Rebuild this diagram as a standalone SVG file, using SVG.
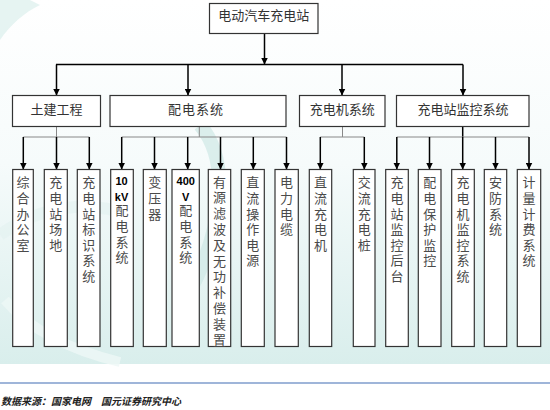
<svg xmlns="http://www.w3.org/2000/svg" width="550" height="410" viewBox="0 0 550 410">
<defs>
<linearGradient id="bg" x1="0" y1="0" x2="0" y2="1">
<stop offset="0" stop-color="#ffffff"/>
<stop offset="0.45" stop-color="#f6fbfb"/>
<stop offset="1" stop-color="#d9eeec"/>
</linearGradient>
<marker id="ah" viewBox="0 0 10 10" refX="10" refY="5" markerWidth="7" markerHeight="7" markerUnits="userSpaceOnUse" orient="auto">
<path d="M0,0 L10,5 L0,10 z" fill="#000"/>
</marker>
<style>
.box{fill:#fff;stroke:#333;stroke-width:1.2}
.t2{font-family:"Noto Sans CJK SC","Noto Sans CJK JP",sans-serif;font-size:13px;fill:#333;text-anchor:middle}
.tv{font-family:"Noto Sans CJK SC","Noto Sans CJK JP",sans-serif;font-size:13px;fill:#4a4a4a;text-anchor:start;writing-mode:vertical-rl;letter-spacing:2.6px}
.tb{font-family:"Liberation Sans",Arial,sans-serif;font-size:11px;font-weight:bold;fill:#000;text-anchor:middle}
.arr{stroke:#000;stroke-width:1.5;fill:none;marker-end:url(#ah)}
.ln{stroke:#000;stroke-width:1.5;fill:none}
.lg{stroke:#888;stroke-width:1;fill:none}
.src{font-family:"Noto Sans CJK SC",sans-serif;font-size:10px;font-weight:bold;font-style:italic;fill:#222}
</style>
</defs>
<rect x="0" y="0" width="550" height="364" fill="url(#bg)"/>
<rect x="0" y="364" width="550" height="46" fill="#fff"/>
<path d="M0,40 C10,25 25,12 40,5 L30,0 L0,0 z" fill="#d6ecea" opacity="0.6"/>
<path d="M200,125 C230,160 225,230 185,300" stroke="#cfe8e5" stroke-width="14" fill="none" opacity="0.7"/>
<path d="M0,235 C40,205 90,200 130,215" stroke="#e4f2f1" stroke-width="12" fill="none" opacity="0.7"/>
<path d="M5,300 C30,330 70,350 120,362" stroke="#eef7f6" stroke-width="10" fill="none" opacity="0.8"/>
<line x1="0" y1="383" x2="550" y2="383" stroke="#7f9ccc" stroke-width="1.5"/>
<text class="src" x="1" y="405">数据来源：国家电网　国元证券研究中心</text>

<g id="connectors">
<line class="arr" x1="264.5" y1="33.5" x2="264.5" y2="64.5"/>
<line class="ln" x1="56" y1="64.5" x2="463" y2="64.5"/>
<line class="arr" x1="56.5" y1="64.5" x2="56.5" y2="95.5"/>
<line class="arr" x1="188" y1="64.5" x2="188" y2="95.5"/>
<line class="arr" x1="342" y1="64.5" x2="342" y2="95.5"/>
<line class="arr" x1="463" y1="64.5" x2="463" y2="95.5"/>

<line class="lg" x1="56.5" y1="126.5" x2="56.5" y2="137"/>
<line class="lg" x1="23.3" y1="137" x2="89.3" y2="137"/>
<line class="arr" x1="23.3" y1="137" x2="23.3" y2="169.5"/>
<line class="arr" x1="56.5" y1="137" x2="56.5" y2="169.5"/>
<line class="arr" x1="89.3" y1="137" x2="89.3" y2="169.5"/>

<line class="lg" x1="199.3" y1="126.5" x2="199.3" y2="137"/>
<line class="lg" x1="121.7" y1="137" x2="286.5" y2="137"/>
<line class="arr" x1="121.7" y1="137" x2="121.7" y2="169.5"/>
<line class="arr" x1="154.5" y1="137" x2="154.5" y2="169.5"/>
<line class="arr" x1="187.7" y1="137" x2="187.7" y2="169.5"/>
<line class="arr" x1="220.5" y1="137" x2="220.5" y2="169.5"/>
<line class="arr" x1="253.3" y1="137" x2="253.3" y2="169.5"/>
<line class="arr" x1="286.5" y1="137" x2="286.5" y2="169.5"/>

<line class="lg" x1="342.5" y1="126.5" x2="342.5" y2="137"/>
<line class="lg" x1="320.3" y1="137" x2="364.3" y2="137"/>
<line class="arr" x1="320.3" y1="137" x2="320.3" y2="169.5"/>
<line class="arr" x1="364.3" y1="137" x2="364.3" y2="169.5"/>

<line class="ln" x1="462.7" y1="126.5" x2="462.7" y2="137"/>
<line class="lg" x1="396.8" y1="137" x2="529" y2="137"/>
<line class="arr" x1="396.8" y1="137" x2="396.8" y2="169.5"/>
<line class="arr" x1="429.5" y1="137" x2="429.5" y2="169.5"/>
<line class="arr" x1="462.7" y1="137" x2="462.7" y2="169.5"/>
<line class="arr" x1="495.5" y1="137" x2="495.5" y2="169.5"/>
<line class="arr" x1="529" y1="137" x2="529" y2="169.5"/>
</g>

<g id="root"><rect class="box" x="209.5" y="3.5" width="108.5" height="30"/><text class="t2" x="263.7" y="20">电动汽车充电站</text></g>

<g id="tujian"><rect class="box" x="12.5" y="95.5" width="88" height="31"/><text class="t2" x="56.5" y="113.5">土建工程</text></g>
<g id="peidian"><rect class="box" x="110" y="95.5" width="176" height="31"/><text class="t2" x="196" y="113.5" letter-spacing="1">配电系统</text></g>
<g id="chongdianji"><rect class="box" x="299.5" y="95.5" width="85.5" height="31"/><text class="t2" x="342.2" y="113.5">充电机系统</text></g>
<g id="jiankong"><rect class="box" x="396.5" y="95.5" width="132.5" height="31"/><text class="t2" x="463" y="113.5">充电站监控系统</text></g>

<g id="n1"><rect class="box" x="12.7" y="169.5" width="20.6" height="177"/><text class="tv" x="23" y="176">综合办公室</text></g>
<g id="n2"><rect class="box" x="44.3" y="169.5" width="23" height="177"/><text class="tv" x="55.8" y="176">充电站场地</text></g>
<g id="n3"><rect class="box" x="77.3" y="169.5" width="22.7" height="177"/><text class="tv" x="88.7" y="176">充电站标识系统</text></g>
<g id="n4"><rect class="box" x="110.7" y="169.5" width="22.6" height="177"/><text class="tb" x="121.5" y="185">10</text><text class="tb" x="121.5" y="200.5">kV</text><text class="tv" x="122" y="204">配电系统</text></g>
<g id="n5"><rect class="box" x="143.3" y="169.5" width="23" height="177"/><text class="tv" x="154.8" y="176">变压器</text></g>
<g id="n6"><rect class="box" x="172" y="169.5" width="27.3" height="177"/><text class="tb" x="185.7" y="185">400</text><text class="tb" x="185.7" y="200.5">V</text><text class="tv" x="185.7" y="204">配电系统</text></g>
<g id="n7"><rect class="box" x="208.3" y="169.5" width="22.4" height="177"/><text class="tv" x="219.5" y="175.2" style="letter-spacing:2.8px">有源滤波及无功补偿装置</text></g>
<g id="n8"><rect class="box" x="241.3" y="169.5" width="23" height="177"/><text class="tv" x="252.8" y="176">直流操作电源</text></g>
<g id="n9"><rect class="box" x="275" y="169.5" width="23.3" height="177"/><text class="tv" x="286.6" y="176">电力电缆</text></g>
<g id="n10"><rect class="box" x="309.3" y="169.5" width="22.4" height="177"/><text class="tv" x="320.5" y="176">直流充电机</text></g>
<g id="n11"><rect class="box" x="353.3" y="169.5" width="21.7" height="177"/><text class="tv" x="364.2" y="176">交流充电桩</text></g>
<g id="n12"><rect class="box" x="385.7" y="169.5" width="22.6" height="177"/><text class="tv" x="397" y="176">充电站监控后台</text></g>
<g id="n13"><rect class="box" x="418.3" y="169.5" width="22.7" height="177"/><text class="tv" x="429.7" y="176">配电保护监控</text></g>
<g id="n14"><rect class="box" x="451.7" y="169.5" width="22.6" height="177"/><text class="tv" x="463" y="176">充电机监控系统</text></g>
<g id="n15"><rect class="box" x="484.3" y="169.5" width="22.4" height="177"/><text class="tv" x="495.5" y="176">安防系统</text></g>
<g id="n16"><rect class="box" x="517.3" y="169.5" width="23.4" height="177"/><text class="tv" x="529" y="176">计量计费系统</text></g>
</svg>
